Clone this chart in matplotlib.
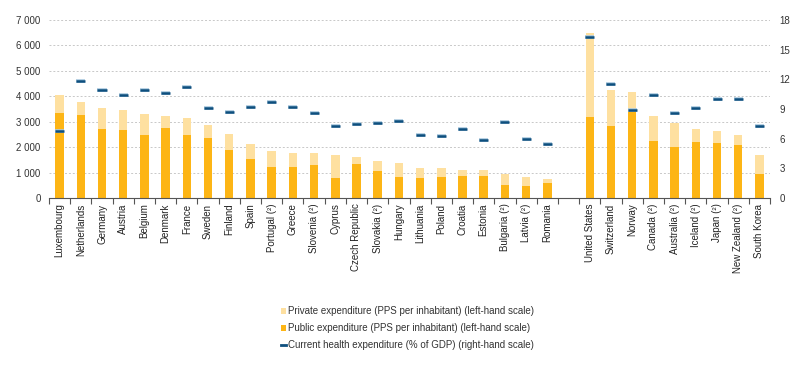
import matplotlib
matplotlib.use("Agg")
import matplotlib.pyplot as plt
import numpy as np
from matplotlib.patches import Patch
from matplotlib.lines import Line2D
import matplotlib.patheffects as pe

plt.rcParams['font.family'] = ['Liberation Sans', 'DejaVu Sans']

countries = ["Luxembourg", "Netherlands", "Germany", "Austria", "Belgium", "Denmark", "France",
             "Sweden", "Finland", "Spain", "Portugal (²)", "Greece", "Slovenia (²)", "Cyprus",
             "Czech Republic", "Slovakia (²)", "Hungary", "Lithuania", "Poland", "Croatia",
             "Estonia", "Bulgaria (²)", "Latvia (²)", "Romania", "",
             "United States", "Switzerland", "Norway", "Canada (²)", "Australia (²)",
             "Iceland (²)", "Japan (²)", "New Zealand (²)", "South Korea"]

total = [4060, 3790, 3540, 3470, 3290, 3210, 3130, 2870, 2530, 2120, 1850, 1780, 1780, 1690,
         1600, 1470, 1380, 1190, 1190, 1100, 1100, 960, 810, 750, np.nan,
         6480, 4250, 4170, 3220, 2940, 2700, 2630, 2480, 1690]
public = [3350, 3260, 2730, 2660, 2480, 2750, 2480, 2360, 1880, 1530, 1230, 1230, 1310, 790,
          1340, 1060, 840, 800, 840, 880, 880, 510, 470, 600, np.nan,
          3170, 2820, 3500, 2240, 2020, 2200, 2160, 2070, 960]
gdp_share = [6.8, 11.8, 10.9, 10.4, 10.9, 10.6, 11.2, 9.1, 8.7, 9.2, 9.7, 9.2, 8.6, 7.3,
             7.45, 7.6, 7.8, 6.4, 6.3, 7.0, 5.9, 7.7, 6.0, 5.5, np.nan,
             16.25, 11.5, 8.9, 10.45, 8.6, 9.1, 10.0, 10.0, 7.3]

total = np.array(total, dtype=float)
public = np.array(public, dtype=float)
private = total - public
gdp_share = np.array(gdp_share, dtype=float)

c_pub = "#FDB515"
c_priv = "#FEE0A0"
c_line = "#0E4F7E"

fig = plt.figure(figsize=(8.07, 3.68), dpi=100)
ax = fig.add_axes([0.0607, 0.462, 0.8935, 0.4835])
x = np.arange(len(countries))

ax.bar(x, public, width=0.4, color=c_pub, zorder=2)
ax.bar(x, private, width=0.4, bottom=public, color=c_priv, zorder=2)
ax.set_xlim(-0.5, len(countries) - 0.5)
ax.set_ylim(0, 7000)
ax.set_yticks(np.arange(0, 7001, 1000))
ax.set_yticklabels([f"{v:,}".replace(",", " ") for v in range(0, 7001, 1000)])
ax.yaxis.grid(True, linestyle=(0, (2, 2)), color="#C8C8C8", linewidth=0.7, zorder=0)
ax.set_axisbelow(True)

for s in ["top", "left", "right"]:
    ax.spines[s].set_visible(False)
ax.spines["bottom"].set_color("#555555")
ax.spines["bottom"].set_linewidth(0.8)
ax.tick_params(axis="y", length=0, labelsize=7, colors="#333333", pad=6)

ax.set_xticks(np.arange(-0.5, len(countries), 1.0), minor=False)
ax.set_xticklabels([])
ax.set_xticks(x, minor=True)
ax.set_xticklabels(countries, minor=True, rotation=90, fontsize=7, color="#222222", va="top")
ax.tick_params(axis="x", which="major", length=4, color="#555555", width=0.8)
ax.tick_params(axis="x", which="minor", length=0, pad=4)

ax2 = ax.twinx()
ax2.set_ylim(0, 18)
ax2.set_yticks(np.arange(0, 19, 3))
for s in ["top", "left", "right", "bottom"]:
    ax2.spines[s].set_visible(False)
ax2.tick_params(axis="y", length=0, labelsize=7, colors="#333333", pad=7)
ax2.plot(x, gdp_share, linestyle="none", marker="_", markersize=6.5, markeredgewidth=1.8,
         color=c_line, zorder=5,
         path_effects=[pe.Stroke(linewidth=2.6, foreground="#A9C8DE"), pe.Normal()])

handles = [Patch(facecolor=c_priv, edgecolor="none"),
           Patch(facecolor=c_pub, edgecolor="none"),
           Line2D([0], [0], color=c_line, linewidth=2)]
labels = ["Private expenditure (PPS per inhabitant) (left-hand scale)",
          "Public expenditure (PPS per inhabitant) (left-hand scale)",
          "Current health expenditure (% of GDP) (right-hand scale)"]
fig.legend(handles, labels, loc="center", bbox_to_anchor=(0.505, 0.108), frameon=False,
           fontsize=7, handlelength=0.5, handleheight=0.5, handletextpad=0.2,
           labelspacing=0.7, labelcolor="#333333")

fig.savefig("out.png", dpi=100)
